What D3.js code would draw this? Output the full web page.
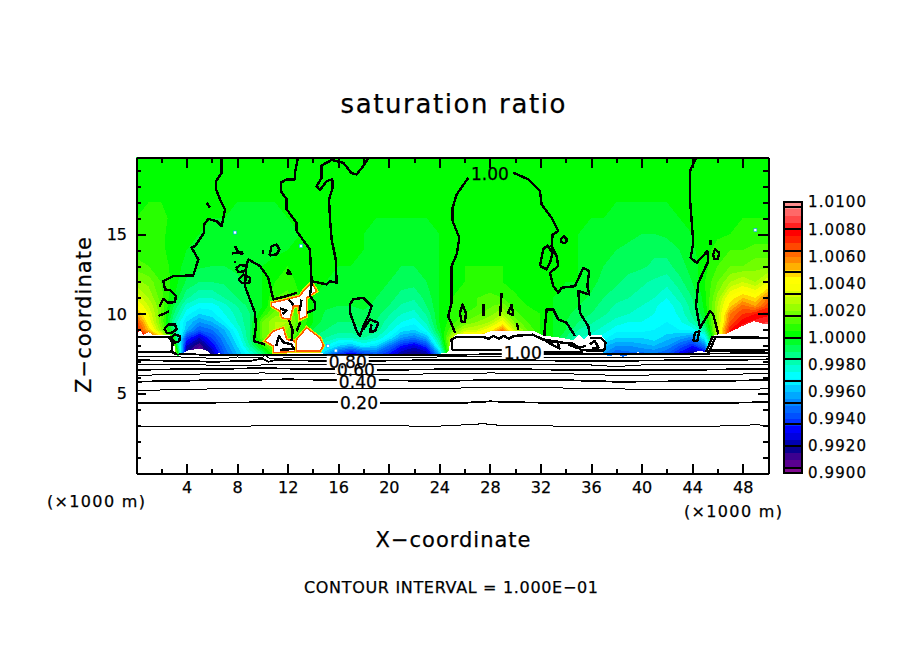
<!DOCTYPE html>
<html><head><meta charset="utf-8">
<script src="https://cdn.jsdelivr.net/npm/d3@7/dist/d3.min.js"></script>
<style>html,body{margin:0;background:#fff}svg{display:block}text{font-family:"DejaVu Sans";fill:#000;stroke:#000;stroke-width:.25px}</style>
</head><body><svg id="c" width="904" height="654"></svg>
<script>
// ---- labels
const titleText = "saturation ratio";
const xTitle = "X\u2212coordinate";
const yTitle = "Z\u2212coordinate";
const unitText = "(\u00d71000 m)";
const footerText = "CONTOUR INTERVAL = 1.000E\u221201";
const xMajor = [4,8,12,16,20,24,28,32,36,40,44,48];
const xMinor = [2,6,10,14,18,22,26,30,34,38,42,46];
const zMajor = [5,10,15];
const zMinor = [1,2,3,4,6,7,8,9,11,12,13,14,16,17,18,19];
const barLabels = ["0.9900","0.9920","0.9940","0.9960","0.9980","1.0000","1.0020","1.0040","1.0060","1.0080","1.0100"];
const barLabelValues = [0.990,0.992,0.994,0.996,0.998,1.000,1.002,1.004,1.006,1.008,1.010];
const barLineValues = [0.9904,0.9920,0.9936,0.9952,0.9968,0.9984,1.0000,1.0016,1.0032,1.0048,1.0064,1.0080,1.0096];
// ---- colour levels (lower bound of each band, in 1e-4 above 1)
const bandLevels = [-100,-95,-90,-85,-80,-75,-70,-65,-60,-55,-50,-45,-40,-35,-30,-25,-20,-15,-10,-5,0,5,10,15,20,25,30,35,40,45,50,55,60,65,70,75,80,85,90,95];
const bandColors = ["#800a90","#5a0090","#3c0090","#0a0090","#0000b0","#0000e0","#0000ff","#0030ff","#0050ff","#0068ff","#0088ff","#00a8ff","#00c8ff","#00f0ff","#00ffff","#00ffd8","#00ffb0","#00ff88","#00ff58","#00ff28","#00ff00","#28ff00","#50ff00","#70ff00","#98ff00","#b8ff00","#d8ff00","#f8ff00","#ffff00","#ffd800","#ffb000","#ff8800","#ff6800","#ff4800","#ff2000","#ff0000","#ff2020","#ff4848","#ff6868","#ff9090"];
// ---- field: saturation ratio minus one, in 1e-4, one value per km of x
const zRows = [7.2,7.5,8,8.5,9,9.5,10,10.5,11,12,13,14,15,16,17,18,20];
const row72 = [60,60,60,40,-85,-95,-80,-55,-40,-25, -10,10,10,-5,-20,-40,-60,-70,-60,-55, -65,-80,-85,-80,-40,30,35,40,30,30, 20,10,0,-15,-30,-35,-35,-45,-55,-52, -52,-50,-55,-68,-82,-75,60,60,60,60, 60];
const row75 = [60,60,60,40,-85,-95,-80,-55,-40,-25, -10,10,10,-5,-20,-40,-60,-70,-60,-55, -65,-80,-85,-80,-40,30,35,40,30,30, 20,10,0,-15,-30,-35,-35,-45,-55,-52, -52,-50,-55,-68,-82,-75,60,60,60,60, 60];
const row80 = [70,70,60,20,-75,-90,-70,-50,-35,-15, 5,20,15,0,-15,-25,-35,-40,-30,-35, -50,-65,-72,-60,-20,30,40,45,45,45, 30,15,5,-5,-15,-25,-30,-38,-45,-45, -42,-40,-45,-55,-65,-50,30,70,75,80, 85];
const row85 = [85,75,50,0,-60,-75,-60,-45,-30,-10, 15,25,15,5,-10,-15,-20,-20,-15,-20, -30,-45,-50,-40,-10,30,50,55,65,70, 45,20,5,0,-10,-20,-22,-28,-35,-35, -35,-32,-38,-42,-48,-30,25,75,85,90, 92];
const row90 = [75,50,20,-10,-40,-55,-50,-40,-25,-10, 15,25,20,10,-5,-10,-12,-12,-10,-12, -22,-32,-35,-25,-2,15,28,30,40,60, 28,15,5,0,-5,-15,-18,-22,-28,-28, -28,-30,-32,-30,-28,-15,30,75,85,90, 92];
const row95 = [70,40,15,-15,-35,-45,-40,-30,-20,-10, 15,25,25,10,0,-8,-10,-10,-8,-10, -18,-25,-28,-18,0,8,15,20,25,38, 18,10,5,0,-5,-10,-14,-18,-22,-25, -25,-28,-30,-26,-18,-5,25,65,78,82, 85];
const row100 = [55,35,15,-10,-28,-35,-32,-25,-18,-10, 5,18,20,10,0,-6,-8,-8,-6,-8, -14,-20,-22,-14,0,6,10,14,18,25, 12,6,5,0,-3,-8,-10,-14,-18,-20, -22,-25,-28,-24,-14,0,25,60,70,75, 78];
const row105 = [42,30,15,-5,-22,-28,-28,-22,-15,-8, 0,12,15,8,0,-4,-5,-5,-4,-6, -10,-16,-18,-10,0,5,8,10,14,18, 8,5,3,0,-2,-5,-8,-12,-16,-18, -20,-24,-28,-22,-12,2,25,48,62,55, 68];
const row110 = [35,25,12,0,-14,-20,-20,-15,-10,-5, 0,10,12,5,0,-3,-3,-3,-2,-5, -8,-12,-14,-8,0,5,8,10,12,10, 6,3,2,0,-1,-3,-6,-10,-13,-15, -17,-20,-25,-18,-10,3,22,42,50,45, 60];
const row120 = [22,18,10,3,-6,-10,-10,-9,-6,-4, 0,5,8,3,0,0,-1,-1,-2,-3, -5,-8,-8,-5,0,3,5,6,6,5, 3,2,0,0,0,0,-3,-7,-9,-12, -14,-16,-18,-12,-5,5,15,25,30,25, 35];
const row130 = [12,10,8,3,-2,-4,-5,-5,-4,-2, 0,3,5,2,0,0,0,0,-1,-2, -3,-5,-5,-3,0,3,5,5,5,5, 3,2,0,0,0,0,-3,-5,-7,-8, -9,-11,-12,-7,-3,3,10,15,15,18, 18];
const row140 = [8,8,6,3,0,-1,-3,-4,-5,-5, -4,-2,0,0,0,0,0,0,0,-1, -2,-3,-3,-2,0,2,3,3,3,3, 2,0,0,0,0,0,-2,-3,-5,-6, -8,-9,-8,-5,-1,3,7,10,10,12, 12];
const row150 = [6,6,6,3,0,0,-1,-2,-4,-5, -5,-3,-1,0,0,0,0,0,0,-1, -2,-2,-2,-1,0,0,1,1,1,1, 0,0,0,0,0,0,-1,-2,-3,-4, -5,-5,-4,-2,0,2,4,5,6,7, 7];
const row160 = [5,6,6,4,2,0,0,0,-1,-2, -2,-1,0,0,0,0,0,0,0,0, 0,0,0,0,0,0,0,0,0,0, 0,0,0,0,0,0,0,0,-1,-1, -2,-2,-1,0,0,0,2,3,5,5, 5];
const row170 = [3,5,5,3,1,0,0,0,0,0, 0,0,0,0,0,0,0,0,0,0, 0,0,0,0,0,0,0,0,0,0, 0,0,0,0,0,0,0,0,0,0, 0,0,0,0,0,0,0,1,1,2, 2];
const row180 = [1,1,1,0,0,0,0,0,0,0, 0,0,0,0,0,0,0,0,0,0, 0,0,0,0,0,0,0,0,0,0, 0,0,0,0,0,0,0,0,0,0, 0,0,0,0,0,0,0,0,0,0, 0];
const row200 = [0,0,0,0,0,0,0,0,0,0, 0,0,0,0,0,0,0,0,0,0, 0,0,0,0,0,0,0,0,0,0, 0,0,0,0,0,0,0,0,0,0, 0,0,0,0,0,0,0,0,0,0, 0];
const fieldRows = [row72,row75,row80,row85,row90,row95,row100,row105,row110,row120,row130,row140,row150,row160,row170,row180,row200];
// ---- out-of-range (white) regions, [x km, z km]
const whiteEdge = [[0,8.7],[0.3,8.95],[0.6,8.7],[1,8.85],[1.3,8.7],[2.7,8.65],[3,8.3],[3.1,7.6],[3.3,7.35],[3.7,7.55],[4.2,7.75],[5.2,7.8],[5.7,7.65],[6,7.4],[6.6,7.55],[6.9,7.4],[7.6,7.35],[8,7.5],[8.6,7.4],[9.5,7.45],[10,7.35],[10.9,7.4],[12,7.6],[13,7.6],[14.5,7.6],[15,7.45],[16,7.35],[17,7.4],[18,7.35],[19,7.4],[20,7.42],[21,7.35],[22,7.4],[23,7.42],[24,7.5],[24.7,7.6],[24.9,8.3],[25.3,8.7],[26,8.75],[27.5,8.75],[28,8.9],[29,8.95],[30,8.9],[31.4,8.95],[32.2,8.65],[33.7,8.5],[34.6,8.35],[35,8.7],[35.5,8.4],[35.8,8.7],[36.8,8.7],[37.25,8.2],[37.1,7.7],[36.8,7.5],[37.5,7.35],[38,7.5],[38.5,7.3],[39,7.45],[39.7,7.6],[40.3,7.45],[41,7.4],[42,7.4],[43,7.45],[44,7.55],[44.6,7.7],[45,7.6],[45.5,8.4],[45.8,8.7],[46.7,8.75],[47.5,9.05],[48,9.25],[48.9,9.55],[49.5,9.4],[50,9.35],[50,0],[0,0]];
const whiteArrow = [[10.73,10.7],[11.92,10.91],[12.97,11.12],[13.24,11.43],[13.9,11.96],[14.29,11.43],[13.5,11],[13.5,9.86],[12.97,9.66],[12.84,10.49],[12.45,10.49],[12.18,9.66],[11.52,9.76],[11.39,10.18],[10.73,10.49]];
const whiteLobeA = [[10.21,8.3],[10.86,8.92],[11.65,9.13],[11.92,8.4],[12.58,8.3],[12.71,7.67],[10.86,7.57],[10.86,7.99]];
const whiteLobeB = [[12.71,8.4],[13.5,9.13],[14.56,8.5],[14.82,7.99],[14.56,7.67],[12.71,7.67]];
const whiteSpots = [[7.83,15.1],[13.05,14.25],[15.2,8.0],[15.8,7.7],[49,15.25]];
// ---- contour lines, [x km, z km]
const c01 = [[0,2.97],[8,2.97],[14,3.0],[20,2.98],[24,2.97],[26,3.05],[27.5,3.12],[29,3.0],[34,2.97],[37,2.92],[42,2.95],[46,2.97],[49,3.05],[50,3.02]];
const c02 = [[0,4.4],[4,4.43],[10,4.46],[16,4.48],[22,4.4],[26,4.43],[28,4.52],[31,4.45],[36,4.4],[41,4.42],[46,4.42],[50,4.47]];
const c03 = [[0,5.2],[6,5.3],[12,5.35],[18,5.3],[24,5.3],[27,5.4],[32,5.38],[38,5.3],[44,5.25],[50,5.3]];
const c04 = [[0,5.75],[6,5.85],[12,5.9],[18,5.85],[24,5.8],[28,5.85],[34,5.85],[38,5.75],[44,5.78],[50,5.85]];
const c05 = [[0,6.15],[6,6.25],[10,6.3],[14,6.25],[20,6.2],[28,6.3],[34,6.25],[38,6.15],[44,6.2],[50,6.25]];
const c06 = [[0,6.5],[6,6.55],[10,6.6],[14,6.55],[20,6.5],[28,6.55],[34,6.5],[38,6.5],[44,6.5],[50,6.55]];
const c07 = [[0,6.85],[4,6.85],[7,6.75],[10,6.8],[14,6.85],[20,6.8],[28,6.85],[36,6.8],[38,6.7],[40,6.8],[50,6.85]];
const c08 = [[0,7.1],[4,7.05],[6,7.0],[9,7.05],[10,7.2],[10.5,7.0],[11,7.1],[16,7.05],[24,7.1],[30,7.1],[36,7.05],[44,7.1],[50,7.15]];
const c09 = [[0,7.35],[3.5,7.3],[5,7.25],[7,7.2],[8,7.3],[10,7.25],[10.2,7.4],[10.6,7.2],[12,7.25],[16,7.25],[24,7.3],[30,7.3],[36,7.25],[44,7.3],[50,7.35]];
const c10a = [[0,7.6],[2.8,7.6],[3.2,7.45],[4,7.5],[6,7.4],[9,7.4],[11,7.4],[14,7.45],[16,7.4],[24,7.42],[30,7.5],[36,7.5],[44,7.5],[50,7.55]];
const blobLeft = [[0,8.57],[2.6,8.55],[2.9,8.2],[2.82,7.67],[3.22,7.46]];
const blobMidTop = [[25,7.75],[24.97,8.4],[25.37,8.55],[27.5,8.55],[27.9,8.45],[28.3,8.62],[28.7,8.45],[29.1,8.62],[29.5,8.45],[29.9,8.62],[31.4,8.7],[32.2,8.4],[33.7,8.2],[34.6,8.15]];
const blobMidLow = [[25,7.75],[31.5,7.7],[32.4,7.6],[35.4,7.6]];
const blobMidRight = [[35.92,8.5],[36.8,8.5],[37.15,8.2],[37.05,7.72],[35.8,7.7],[35.2,7.75],[34.6,8.15]];
const blobRight = [[45.1,7.6],[45.6,8.55],[50,8.5]];
const blobRight2 = [[45.3,7.55],[45.85,8.55]];
const blobRight3 = [[45.3,7.7],[50,7.72]];
const lineA = [[6.78,19.89],[6.78,18.85],[6.33,18.32],[6.33,17.8],[6.65,17.18],[7.04,16.55],[6.78,15.5],[6.38,15.8],[5.72,15.96],[5.38,15.6],[5.38,15.08],[4.67,14.25],[4.4,14.15],[4.93,13.41],[4.53,12.41],[2.95,12.37],[2.16,12.05],[2.29,11.53],[2.69,11.49],[3.16,11.11],[3.08,10.74],[2.56,10.7],[2.16,10.95],[1.85,10.45]];
const lineB = [[12.84,19.89],[12.58,18.85],[12.58,18.43],[11.92,18.43],[11.45,18.22],[11.45,17.7],[11.92,17.18],[11.92,16.55],[12.71,15.71],[12.71,15.19],[13.76,14.04],[13.9,11.95],[13.76,11.12],[14.16,10.7],[14.16,10.28],[13.5,10.07]];
const lineC = [[12.71,11.32],[11.92,11.12],[10.86,10.91],[10.47,12.26],[9.81,13],[8.89,13.41],[8.75,13.1],[8.62,11.74],[9.41,10.07],[9.49,9.23],[9.33,8.29],[10.2,8.09]];
const lineD = [[18.51,19.89],[17.98,19.27],[17.46,18.74],[17.06,18.81],[16.4,19.47],[15.48,19.64],[14.69,19.31],[14.69,18.53],[14.29,18.01],[14.56,17.76],[15.08,18.32],[15.53,18.43],[15.56,17.91],[15.27,17.18],[15.35,15.92],[15.48,14.67],[15.8,13.41],[15.87,11.95],[15.35,12.05],[15.08,11.85],[13.9,12.05]];
const lineE = [[16.93,10.59],[17.19,10.91],[17.98,11.01],[18.64,10.49],[18.38,9.86],[17.98,9.23],[17.72,8.61],[17.46,8.92],[16.93,10.07],[16.93,10.59]];
const lineE2 = [[17.98,9.02],[18.51,9.65],[19.17,9.44],[18.91,8.92],[18.51,8.86],[18.64,9.34]];
const lineF1 = [[26.29,18.53],[25.37,17.49],[25.05,16.65],[25.05,15.82],[25.58,14.77],[25.37,13.73],[24.97,13],[24.97,10.7],[24.7,9.86],[25.24,8.82]];
const lineF2 = [[29.85,18.85],[31.04,18.43],[31.96,17.7],[32.09,16.86],[32.88,16.03],[33.41,15.19],[32.96,14.98],[32.88,14.25],[33.28,13.62],[33.41,13],[32.75,12.58],[33.01,11.74],[33.41,11.32],[33.67,11.64],[34.73,11.74],[35.39,12.89],[35.86,12.68],[35.7,11.74],[35.86,11.22],[34.99,11.43],[35.12,10.07],[35.78,9.23],[35.92,8.6]];
const lineG = [[44.35,19.85],[43.83,18.95],[43.83,17.18],[44.09,14.46],[43.88,13.52],[44.35,13.2],[45.2,13.93],[45.28,13.31],[44.49,11.95],[44.3,10.49],[44.62,9.13],[45.41,10.17],[45.67,9.96],[46.07,8.71]];
const lineH = [[32.36,9.23],[32.49,10.28],[33.01,10.28],[33.41,9.65],[34.07,9.44],[34.73,8.61]];
const lineH0 = [[32.36,9.23],[32.3,8.6]];
const loops = [
 [[1.77,9.86],[2.64,10.17]],
 [[2.24,9.07],[2.56,9.34],[3.08,9.34],[3.22,9.02],[2.82,8.82],[2.43,8.82],[2.24,9.07]],
 [[2.74,8.5],[3.08,8.71],[3.48,8.61],[3.43,8.29],[3.08,8.19],[2.74,8.5]],
 [[5.59,16.97],[5.85,16.65]],
 [[7.91,12.85],[8.23,13.06],[8.76,13],[8.62,12.68],[8.1,12.62],[7.91,12.85]],
 [[8.1,12.16],[8.49,12.47],[9.02,12.26],[8.97,11.95],[8.36,11.95],[8.1,12.16]],
 [[10.55,13.66],[10.73,14.25],[11.13,14.35],[11.34,14.04],[11.13,13.73],[10.55,13.66]],
 [[10.07,14],[10.07,13.75]],
 [[11.95,12.5],[12.05,12.75],[12.25,12.5],[11.95,12.5]],
 [[7.83,14.25],[8.1,13.83],[8.49,13.73]],
 [[7.57,13.79],[8.49,13.87]],
 [[7.78,13.3],[7.85,13.2]],
 [[33.62,14.67],[33.86,14.88],[34.12,14.63],[33.94,14.42],[33.67,14.5],[33.62,14.67]],
 [[31.96,13],[32.22,14.04],[32.54,14.29],[32.96,13.83],[32.75,13.2],[32.49,12.79],[31.96,13]],
 [[25.63,10.07],[25.84,10.59],[26.1,10.07],[26.03,9.49],[25.76,9.49],[25.63,10.07]],
 [[27.48,10.59],[27.48,9.86]],
 [[28.93,11.32],[28.8,9.86]],
 [[29.72,10.59],[29.45,10.07],[29.85,9.92],[29.72,10.59]],
 [[30.11,9.44],[30.25,9.02]],
 [[45.67,13.73],[45.8,14.04],[46.15,13.83],[46.02,13.45],[45.73,13.45],[45.67,13.73]],
 [[45.46,14.6],[45.46,14.3]],
 [[44.09,8.29],[44.22,8.82],[44.57,8.92],[44.41,8.29],[44.09,8.29]],
 [[11.4,10.35],[11.9,10.2],[11.6,10.0]],[[12.1,10.9],[12.45,10.55]],[[13.1,10.9],[12.95,10.2]],
 [[12.1,9.6],[12.4,9.0],[12.3,8.3]],[[13.0,9.5],[12.7,8.9]],
 [[11.1,8.0],[11.3,8.6],[11.7,8.2],[12.3,8.1],[12.5,7.8],[11.4,7.75]],
 [[32.4,8.3],[33.1,8.0],[33.6,7.8]],[[32.7,8.15],[33.3,8.3],[33.5,7.9]],[[34.2,8.1],[34.9,7.85],[35.6,8.0]],[[35.9,8.1],[36.3,8.3],[36.6,7.9],[36.1,7.85]]
];
const thinLines = [c01,c03,c05,c07,c09];
const bandLines = [c02,c04,c06,c08,c10a];
const thickLines = [blobLeft,blobMidTop,blobMidLow,blobMidRight,blobRight,blobRight2,blobRight3,lineA,lineB,lineC,lineD,lineE,lineE2,lineF1,lineF2,lineG,lineH,lineH0];
const contourLabelText = ["0.20","0.40","0.60","0.80","1.00","1.00"];
const contourLabelX = [17.64,17.55,17.4,16.75,30.6,28.0];
const contourLabelZ = [4.45,5.75,6.5,7.0,7.55,18.8];

// ---- scales
const svg = d3.select("#c");
const x = d3.scaleLinear().domain([0,50]).range([136,768]);
const z = d3.scaleLinear().domain([0,19.8]).range([473.5,157.5]);
const barY = d3.scaleLinear().domain([0.99,1.01]).range([473,202]);
const line = d3.line().x(d=>x(d[0])).y(d=>z(d[1]));
const closed = d3.line().x(d=>x(d[0])).y(d=>z(d[1])).curve(d3.curveLinearClosed);

svg.append("defs").append("clipPath").attr("id","plot").append("rect")
  .attr("x",x(0)).attr("y",z(19.8)).attr("width",x(50)-x(0)).attr("height",z(0)-z(19.8));
const plot = svg.append("g").attr("clip-path","url(#plot)");

// ---- filled field via d3.contours on the km grid
const nx = row72.length, ny = fieldRows.length;
const flat = fieldRows.flat();
const rowOf = d3.scaleLinear().domain(zRows.map((_,i)=>i+0.5)).range(zRows);
const path = d3.geoPath(d3.geoTransform({point(a,b){ this.stream.point(x(a-0.5), z(rowOf(b))); }}));
const contours = d3.contours().size([nx,ny]).thresholds(bandLevels)(flat);
plot.selectAll("path.band").data(contours).join("path").attr("class","band")
  .attr("d",path).attr("fill",(d,i)=>bandColors[i]).attr("shape-rendering","crispEdges");

// ---- white regions
[whiteEdge].forEach(p=>plot.append("path").attr("d",closed(p)).attr("fill","#fff").attr("shape-rendering","crispEdges"));
[whiteArrow,whiteLobeA,whiteLobeB].forEach(p=>{
  plot.append("path").attr("d",closed(p)).attr("fill","none").attr("stroke","#e8e800").attr("stroke-width",3.5).attr("shape-rendering","crispEdges");
  plot.append("path").attr("d",closed(p)).attr("fill","#fff").attr("stroke","#ff5a00").attr("stroke-width",1.5).attr("shape-rendering","crispEdges");
});
plot.selectAll("rect.spot").data(whiteSpots).join("rect").attr("class","spot")
  .attr("x",d=>x(d[0])-1.5).attr("y",d=>z(d[1])-1.5).attr("width",3).attr("height",3)
  .attr("fill","#fff").attr("stroke","#00a0ff").attr("stroke-width",.6);

// ---- contour lines
const drawLines=(list,w)=>plot.append("g").selectAll("path").data(list).join("path")
  .attr("d",line).attr("fill","none").attr("stroke","#000").attr("stroke-width",w)
  .attr("stroke-linejoin","round").attr("shape-rendering","crispEdges");
drawLines(thinLines,1);
drawLines(bandLines,1.8);
drawLines(thickLines,2.4);
drawLines(loops,2.4);

// ---- contour labels with a gap in the line underneath (the label over the green field sits in a plain gap)
const lab = plot.append("g");
contourLabelText.forEach((t,i)=>{
  if(i===5) return;
  const px=x(contourLabelX[i]), py=z(contourLabelZ[i]);
  lab.append("rect").attr("x",px-21).attr("y",py-(i<3&&i>0?4:6)).attr("width",42).attr("height",i<3&&i>0?8:12).attr("fill","#fff");
});
contourLabelText.forEach((t,i)=>{
  lab.append("text").attr("x",x(contourLabelX[i])).attr("y",z(contourLabelZ[i]))
   .attr("dy","0.36em").attr("text-anchor","middle").attr("font-size",17)
   .attr("textLength",38).attr("lengthAdjust","spacing").text(t);
});

// ---- axes
const axisStyle=g=>{g.selectAll("path,line").attr("stroke","#000").attr("stroke-width",2).attr("shape-rendering","crispEdges");
  g.selectAll("text").attr("font-size",16).attr("font-family","DejaVu Sans").attr("fill","#000");};
const blank=()=>"";
const B=svg.append("g").attr("transform",`translate(0,${z(0)})`);
B.append("g").call(d3.axisBottom(x).tickValues(xMinor).tickSize(-5).tickSizeOuter(0).tickFormat(blank)).call(axisStyle);
B.append("g").call(d3.axisBottom(x).tickValues(xMajor).tickSize(-10).tickSizeOuter(0).tickPadding(9)).call(axisStyle);
B.selectAll("text").attr("dy","0.71em").attr("y",8);
const T=svg.append("g").attr("transform",`translate(0,${z(19.8)})`);
T.append("g").call(d3.axisTop(x).tickValues(xMinor).tickSize(-5).tickSizeOuter(0).tickFormat(blank)).call(axisStyle);
T.append("g").call(d3.axisTop(x).tickValues(xMajor).tickSize(-10).tickSizeOuter(0).tickFormat(blank)).call(axisStyle);
const L=svg.append("g").attr("transform",`translate(${x(0)},0)`);
L.append("g").call(d3.axisLeft(z).tickValues(zMinor).tickSize(-5).tickSizeOuter(0).tickFormat(blank)).call(axisStyle);
L.append("g").call(d3.axisLeft(z).tickValues(zMajor).tickSize(-10).tickSizeOuter(0).tickPadding(9)).call(axisStyle);
const R=svg.append("g").attr("transform",`translate(${x(50)},0)`);
R.append("g").call(d3.axisRight(z).tickValues(zMinor).tickSize(-5).tickSizeOuter(0).tickFormat(blank)).call(axisStyle);
R.append("g").call(d3.axisRight(z).tickValues(zMajor).tickSize(-10).tickSizeOuter(0).tickFormat(blank)).call(axisStyle);

// ---- colour bar
const bar = svg.append("g");
bar.selectAll("rect.b").data(bandLevels).join("rect").attr("class","b")
  .attr("x",784).attr("width",18)
  .attr("y",d=>barY(1+(d+5)*1e-4)).attr("height",d=>barY(1+d*1e-4)-barY(1+(d+5)*1e-4)+0.5)
  .attr("fill",(d,i)=>bandColors[i]).attr("shape-rendering","crispEdges");
bar.selectAll("line").data(barLineValues).join("line").attr("x1",784).attr("x2",802)
  .attr("y1",d=>barY(d)).attr("y2",d=>barY(d)).attr("stroke","#000").attr("stroke-width",2).attr("shape-rendering","crispEdges");
bar.append("rect").attr("x",784).attr("y",barY(1.01)).attr("width",18).attr("height",barY(0.99)-barY(1.01))
  .attr("fill","none").attr("stroke","#000").attr("stroke-width",2).attr("shape-rendering","crispEdges");
bar.selectAll("text").data(barLabels).join("text").attr("x",808).attr("y",(d,i)=>barY(barLabelValues[i]))
  .attr("dy","0.36em").attr("font-size",15).attr("textLength",58).attr("lengthAdjust","spacing").text(d=>d);

// ---- titles
const label=(t,px,py,fs,len,extra)=>{const e=svg.append("text").attr("x",px).attr("y",py).attr("dy","0.36em")
  .attr("text-anchor","middle").attr("font-size",fs).attr("textLength",len).attr("lengthAdjust","spacing").text(t);
  if(extra)e.attr("transform",extra);return e;};
label(titleText,453,104,26,225);
label(xTitle,453,539,21,155);
label(yTitle,0,0,21,156,"translate(83,315) rotate(-90)");
label(unitText,96,501,16,98);
label(unitText,733,511,16,98);
label(footerText,451,587,16,294);
</script></body></html>
